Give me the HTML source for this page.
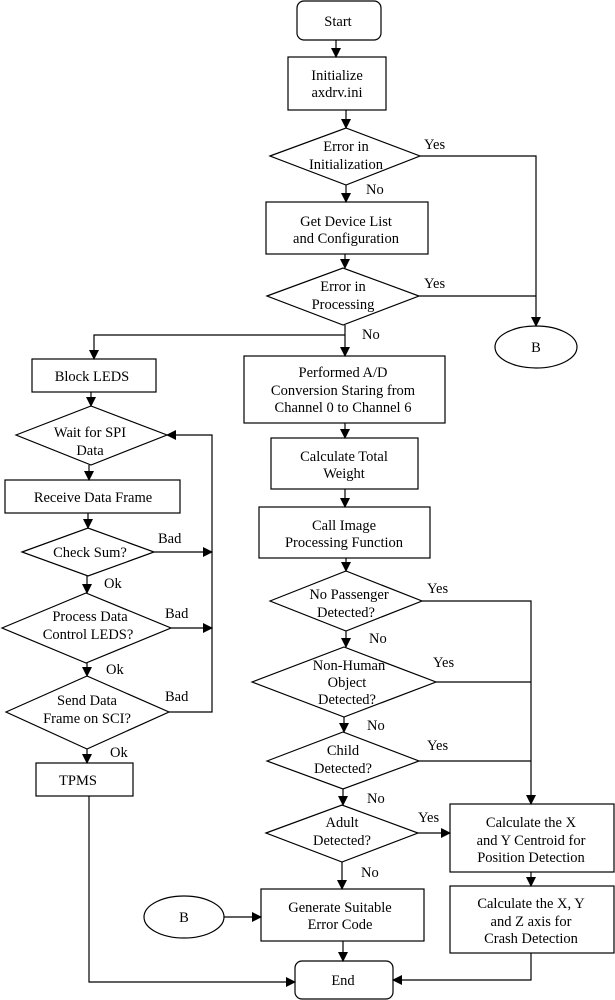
<!DOCTYPE html>
<html><head><meta charset="utf-8"><style>
html,body{margin:0;padding:0;background:#fff;}
svg{display:block;}
svg text{font-family:"Liberation Serif","Times New Roman",serif;font-size:14.5px;fill:#000;text-anchor:middle;}
svg text.l{text-anchor:start;}
</style></head><body>
<svg width="615" height="1000" viewBox="0 0 615 1000" xmlns="http://www.w3.org/2000/svg" font-family="Liberation Serif, serif">
<defs><marker id="a" markerWidth="10" markerHeight="10" refX="9" refY="5" orient="auto" markerUnits="userSpaceOnUse"><path d="M0,0 L10,5 L0,10 z" fill="#000"/></marker></defs>
<g fill="none" stroke="#000" stroke-width="1.2">
<rect x="297" y="1" width="84" height="39" rx="7"/>
<rect x="288" y="57" width="98" height="53"/>
<polygon points="270,156 346,128 420,156 346,185"/>
<rect x="266" y="202" width="162" height="52"/>
<polygon points="267,296 343,268 419,296 343,325"/>
<ellipse cx="536" cy="347" rx="41" ry="21"/>
<rect x="244" y="356" width="201" height="67"/>
<rect x="271" y="438" width="147" height="51"/>
<rect x="259" y="507" width="171" height="51"/>
<polygon points="270,601 346,571 422,601 346,631"/>
<polygon points="252,682 344,647 436,682 344,717"/>
<polygon points="267,761 343,732 419,761 343,789"/>
<polygon points="266,833 342,805 418,833 342,862"/>
<rect x="450" y="804" width="164" height="68"/>
<rect x="450" y="886" width="164" height="67"/>
<rect x="261" y="889" width="163" height="52"/>
<ellipse cx="184" cy="917" rx="40" ry="21"/>
<rect x="295" y="961" width="98" height="38" rx="7"/>
<rect x="32" y="359" width="124" height="33"/>
<polygon points="16,435 91,406 167,435 91,465"/>
<rect x="5" y="480" width="175" height="33"/>
<polygon points="22,552 88,528 154,552 88,576"/>
<polygon points="2,628 86,593 171,628 86,663"/>
<polygon points="6,712 87,676 169,712 87,749"/>
<rect x="36" y="763" width="97" height="33"/>
<line x1="419" y1="296" x2="536" y2="296"/>
<line x1="436" y1="682" x2="531" y2="682"/>
<line x1="419" y1="761" x2="531" y2="761"/>
</g>
<g fill="none" stroke="#000" stroke-width="1.2" marker-end="url(#a)">
<line x1="336" y1="40" x2="336" y2="57"/>
<line x1="346" y1="110" x2="346" y2="128"/>
<line x1="346" y1="185" x2="346" y2="202"/>
<line x1="345" y1="254" x2="345" y2="268"/>
<polyline points="420,156 536,156 536,326"/>
<line x1="345" y1="325" x2="345" y2="356"/>
<polyline points="345,335 94,335 94,359"/>
<line x1="345" y1="423" x2="345" y2="438"/>
<line x1="345" y1="489" x2="345" y2="507"/>
<line x1="346" y1="558" x2="346" y2="571"/>
<line x1="346" y1="631" x2="346" y2="647"/>
<line x1="344" y1="717" x2="344" y2="732"/>
<line x1="343" y1="789" x2="343" y2="805"/>
<polyline points="422,601 531,601 531,804"/>
<line x1="418" y1="833" x2="450" y2="833"/>
<line x1="342" y1="862" x2="342" y2="889"/>
<line x1="531" y1="872" x2="531" y2="886"/>
<line x1="224" y1="917" x2="261" y2="917"/>
<line x1="343" y1="941" x2="343" y2="961"/>
<polyline points="531,953 531,980 393,980"/>
<polyline points="89,796 89,982 295,982"/>
<line x1="91" y1="392" x2="91" y2="406"/>
<polyline points="169,712 212,712 212,435 167,435"/>
<line x1="89" y1="465" x2="89" y2="480"/>
<line x1="88" y1="513" x2="88" y2="528"/>
<line x1="154" y1="552" x2="212" y2="552"/>
<line x1="87" y1="576" x2="87" y2="593"/>
<line x1="171" y1="628" x2="212" y2="628"/>
<line x1="87" y1="663" x2="87" y2="676"/>
<line x1="87" y1="749" x2="87" y2="763"/>
</g>
<text x="338" y="26">Start</text>
<text x="337" y="80">Initialize</text><text x="337" y="97">axdrv.ini</text>
<text x="346" y="151">Error in</text><text x="346" y="169">Initialization</text>
<text class="l" x="424" y="149">Yes</text><text class="l" x="366" y="194">No</text>
<text x="346" y="226">Get Device List</text><text x="346" y="243">and Configuration</text>
<text x="343" y="291">Error in</text><text x="343" y="309">Processing</text>
<text class="l" x="424" y="288">Yes</text><text class="l" x="362" y="339">No</text>
<text x="536" y="352">B</text>
<text x="343" y="377">Performed A/D</text><text x="343" y="395">Conversion Staring from</text><text x="343" y="412">Channel 0 to Channel 6</text>
<text x="344" y="461">Calculate Total</text><text x="344" y="478">Weight</text>
<text x="344" y="530">Call Image</text><text x="344" y="547">Processing Function</text>
<text x="349" y="599">No Passenger</text><text x="346" y="617">Detected?</text>
<text class="l" x="427" y="593">Yes</text><text class="l" x="369" y="643">No</text>
<text x="349" y="670">Non-Human</text><text x="347" y="687">Object</text><text x="347" y="704">Detected?</text>
<text class="l" x="433" y="667">Yes</text><text class="l" x="367" y="730">No</text>
<text x="343" y="755">Child</text><text x="343" y="773">Detected?</text>
<text class="l" x="427" y="750">Yes</text><text class="l" x="367" y="803">No</text>
<text x="342" y="827">Adult</text><text x="342" y="845">Detected?</text>
<text class="l" x="418" y="822">Yes</text><text class="l" x="361" y="877">No</text>
<text x="531" y="827">Calculate the X</text><text x="531" y="845">and Y Centroid for</text><text x="531" y="862">Position Detection</text>
<text x="531" y="908">Calculate the X, Y</text><text x="531" y="926">and Z axis for</text><text x="531" y="943">Crash Detection</text>
<text x="340" y="912">Generate Suitable</text><text x="340" y="929">Error Code</text>
<text x="184" y="922">B</text>
<text x="343" y="985">End</text>
<text x="92" y="381">Block LEDS</text>
<text x="90" y="437">Wait for SPI</text><text x="90" y="455">Data</text>
<text x="93" y="502">Receive Data Frame</text>
<text x="90" y="557">Check Sum?</text>
<text class="l" x="158" y="543">Bad</text><text class="l" x="104" y="588">Ok</text>
<text x="90" y="621">Process Data</text><text x="88" y="639">Control LEDS?</text>
<text class="l" x="165" y="618">Bad</text><text class="l" x="106" y="674">Ok</text>
<text x="87" y="705">Send Data</text><text x="87" y="723">Frame on SCI?</text>
<text class="l" x="165" y="701">Bad</text><text class="l" x="110" y="757">Ok</text>
<text x="78" y="785">TPMS</text>
</svg>
</body></html>
